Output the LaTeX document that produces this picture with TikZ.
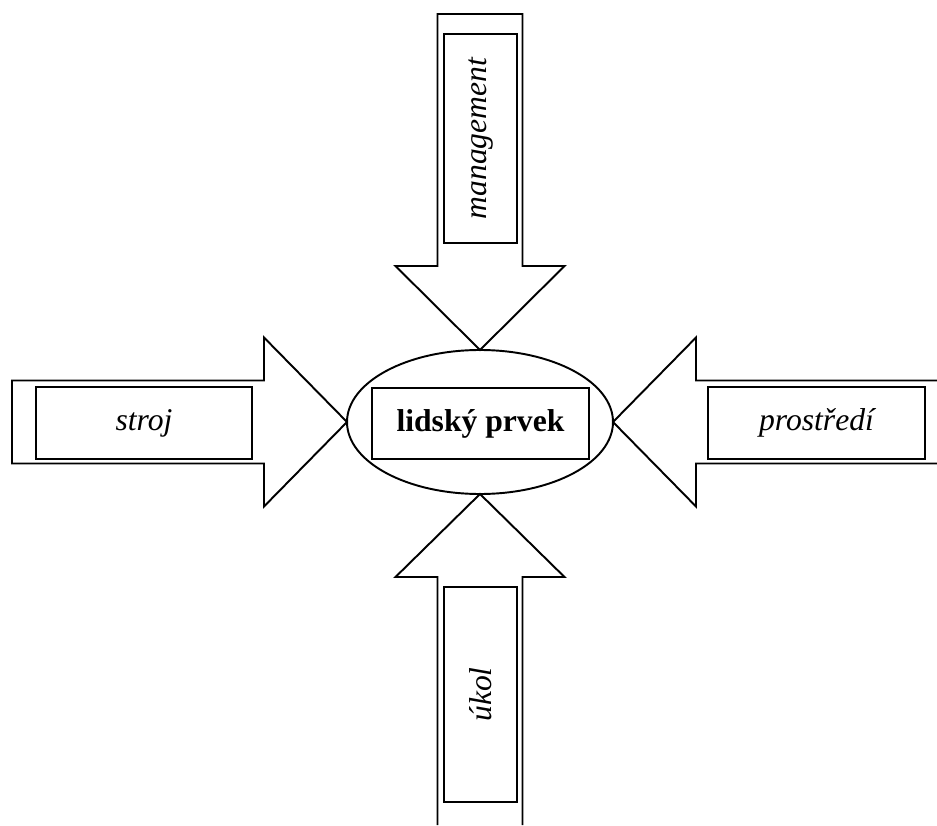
\documentclass[tikz,border=0pt]{standalone}
\usepackage{fontspec}
\setmainfont{Liberation Serif}
\usetikzlibrary{shapes.geometric}

\tikzset{
	blockarrow/.style={draw, line width=1.1pt, line join=miter},
	labelbox/.style={draw, line width=1.1pt, inner sep=0pt, font=\fontsize{18}{22}\selectfont\itshape},
}

\begin{document}
\begin{tikzpicture}
	\useasboundingbox (0,0) rectangle (18.74,16.5);
	
	\draw[blockarrow] (8.75,16.22) -- (10.45,16.22) -- (10.45,11.18) -- (11.29,11.18) -- (9.6,9.5) -- (7.91,11.18) -- (8.75,11.18) -- cycle;
	\draw[blockarrow] (0.24,8.89) -- (5.28,8.89) -- (5.28,9.75) -- (6.94,8.06) -- (5.28,6.37) -- (5.28,7.23) -- (0.24,7.23) -- cycle;
	\draw[blockarrow] (18.74,8.89) -- (13.92,8.89) -- (13.92,9.75) -- (12.26,8.06) -- (13.92,6.37) -- (13.92,7.23) -- (18.74,7.23);
	\draw[blockarrow] (8.75,0) -- (8.75,4.96) -- (7.91,4.96) -- (9.6,6.62) -- (11.29,4.96) -- (10.45,4.96) -- (10.45,0);
	
	\node[draw, ellipse, line width=1.1pt, inner sep=0pt, minimum width=5.32cm, minimum height=2.88cm] (prvek) at (9.6,8.06) {};
	\node[labelbox, minimum width=4.34cm, minimum height=1.42cm, font=\fontsize{18}{22}\selectfont\bfseries] (prveklabel) at (9.61,8.03) {lidský prvek};
	
	\node[labelbox, rotate=90, minimum width=4.18cm, minimum height=1.46cm] (management) at (9.61,13.73) {management};
	\node[labelbox, minimum width=4.32cm, minimum height=1.44cm] (stroj) at (2.88,8.04) {stroj};
	\node[labelbox, minimum width=4.34cm, minimum height=1.44cm] (prostredi) at (16.33,8.04) {prostředí};
	\node[labelbox, rotate=90, minimum width=4.3cm, minimum height=1.46cm] (ukol) at (9.61,2.61) {úkol};
\end{tikzpicture}
\end{document}
